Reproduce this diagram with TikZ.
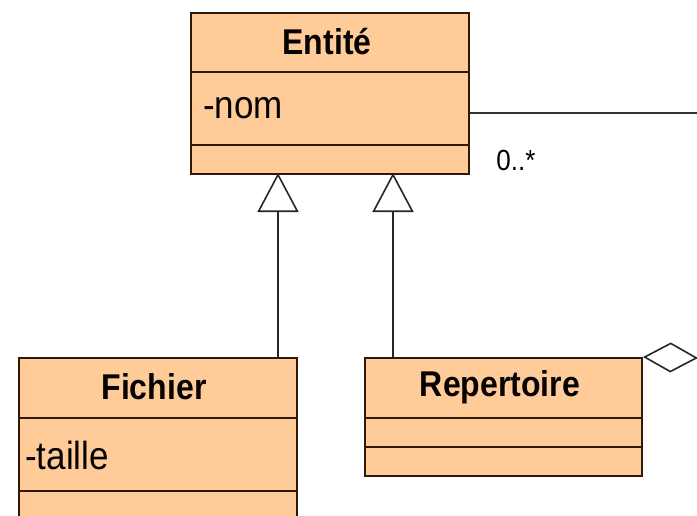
\documentclass[tikz,border=0pt]{standalone}
\usepackage{fontspec}
\setmainfont{Liberation Sans}
\usetikzlibrary{arrows.meta}
\definecolor{umlfill}{RGB}{255,204,153}
\definecolor{umlline}{RGB}{50,25,6}
\tikzset{
  classbox/.style={draw=umlline, line width=2pt, fill=umlfill, anchor=north west, inner sep=0pt},
  classname/.style={font=\fontsize{32}{36}\selectfont\bfseries, text=black!90!umlline, yscale=1.12, transform shape},
  attr/.style={font=\fontsize{35}{40}\selectfont, anchor=west, inner sep=0pt, text=black!90!umlline, yscale=1.12, transform shape},
  sep/.style={draw=umlline, line width=2pt},
  inherit/.style={draw=black!85, line width=1.6pt, -{Triangle[open, width=41pt, length=39pt]}},
  aggreg/.style={draw=black!85, line width=1.6pt, -{Diamond[open, width=30pt, length=55pt]}},
}
\begin{document}
\begin{tikzpicture}[x=1pt,y=-1pt]
	\clip (0,0) rectangle (697,515);
	\fill[white] (0,0) rectangle (697,515);
	% classe mere
	\node[classbox, minimum width=278pt, minimum height=161pt] (entite) at (190,12) {};
	\draw[sep] (190,72) -- (468,72);
	\draw[sep] (190,145) -- (468,145);
	\node[classname] (entiteNom) at (327,42) {Entité};
	\node[attr] (entiteAttr) at (203,108) {-nom};
	% sous-classes
	\node[classbox, minimum width=278pt, minimum height=200pt] (fichier) at (18,357) {};
	\draw[sep] (18,418) -- (296,418);
	\draw[sep] (18,491) -- (296,491);
	\node[classname] (fichierNom) at (154,387) {Fichier};
	\node[attr] (fichierAttr) at (25,455) {-taille};
	\node[classbox, minimum width=277pt, minimum height=118pt] (repertoire) at (364,357) {};
	\draw[sep] (364,418) -- (641,418);
	\draw[sep] (364,447) -- (641,447);
	\node[classname] (repertoireNom) at (500,387) {Repertoire};
	% heritage
	\coordinate (tipA) at (278,173);
	\coordinate (tipB) at (393,173);
	\draw[inherit] (fichier.north -| tipA) -- (tipA);
	\draw[inherit] (repertoire.north -| tipB) -- (tipB);
	% association et agregation
	\coordinate (assocEnd) at (700,113);
	\coordinate (aggEnd) at (700,358);
	\draw[draw=black!80, line width=1.6pt] (entite.east |- assocEnd) -- (assocEnd);
	\node[font=\fontsize{26}{30}\selectfont, yscale=1.12, transform shape] (mult) at (516,160) {0..*};
	\draw[aggreg] (aggEnd) -- (repertoire.north east);
\end{tikzpicture}
\end{document}
